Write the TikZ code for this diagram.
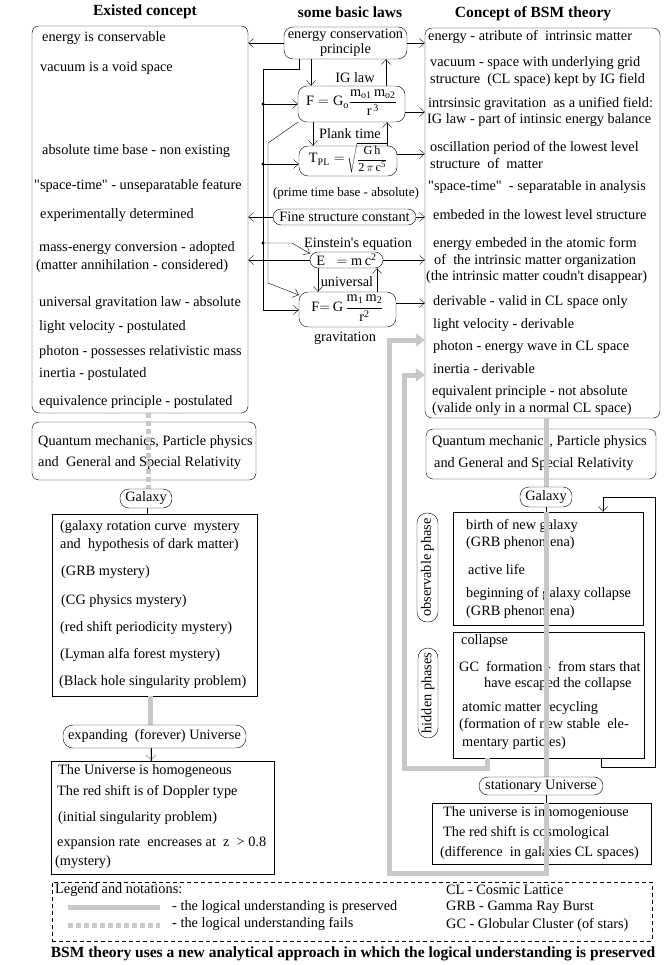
\documentclass[tikz,border=0pt]{standalone}
\usepackage{fontspec}
\setmainfont{Liberation Serif}[Ligatures=TeXOff]
\usetikzlibrary{arrows.meta}
\definecolor{lg}{RGB}{200,200,200}
\newcommand\fsz{\fontsize{14.3}{16.5}\selectfont}
\newcommand\fbz{\fontsize{15.5}{18}\selectfont\bfseries}
\newcommand\myq{\symbol{34}}
\newcommand\myap{\symbol{39}}
\begin{document}
\begin{tikzpicture}[x=1pt,y=-1pt,
  every node/.style={font=\fsz},
  txt/.style={anchor=west,inner sep=0pt},
  bigbox/.style={draw,rounded corners=7pt,inner sep=0pt},
  sqbox/.style={draw,inner sep=0pt},
  pill/.style={draw,fill=white,rounded corners=9pt,inner sep=0pt},
  lawbox/.style={draw,fill=white,rounded corners=9pt,inner sep=0pt},
  lbl/.style={inner sep=0pt},
  ttl/.style={inner sep=0pt,font=\fbz},
  arr/.style={-{Straight Barb[length=5pt,width=9pt]}},
  glin/.style={draw=lg,line width=5pt},
  gdot/.style={draw=lg,line width=5pt,dash pattern=on 5pt off 3pt},
  garr/.style={draw=lg,line width=5pt,-{Triangle[length=9pt,width=13pt]}},
  jdot/.style={circle,fill,inner sep=0pt,minimum size=3.2pt},
]
\useasboundingbox (0,0) rectangle (665,965);

% titles
\node[ttl] (t1) at (145,12) {Existed concept};
\node[ttl] (t2) at (350,12) {some basic laws};
\node[ttl] (t3) at (533,14) {Concept of BSM theory};

% big boxes
\node[bigbox,minimum width=216pt,minimum height=387pt] (lbox) at (140,219.5) {};
\node[bigbox,minimum width=235pt,minimum height=390pt] (rbox) at (542.5,223) {};

% left texts
\node[txt] (l1) at (42,38) {energy is conservable};
\node[txt] (l2) at (40,68) {vacuum is a void space};
\node[txt] (l3) at (42,151) {absolute time base - non existing};
\node[txt] (l4) at (34,186) {\myq space-time\myq\ - unseparatable feature};
\node[txt] (l5) at (40,215) {experimentally determined};
\node[txt] (l6) at (39,248) {mass-energy conversion - adopted};
\node[txt] (l7) at (36,266) {(matter annihilation - considered)};
\node[txt] (l8) at (39,303) {universal gravitation law - absolute};
\node[txt] (l9) at (39,327) {light velocity - postulated};
\node[txt] (l10) at (39,352) {photon - possesses relativistic mass};
\node[txt] (l11) at (39,374) {inertia - postulated};
\node[txt] (l12) at (39,402) {equivalence principle - postulated};

% right texts
\node[txt] (r1) at (428,37) {energy - atribute of \ intrinsic matter};
\node[txt] (r2) at (430,63) {vacuum - space with underlying grid};
\node[txt] (r3) at (430,80) {structure \ (CL space) kept by IG field};
\node[txt] (r4) at (428,104) {intrsinsic gravitation \ as a unified field:};
\node[txt] (r5) at (427,120) {IG law - part of intinsic energy balance};
\node[txt] (r6) at (430,148) {oscillation period of the lowest level};
\node[txt] (r7) at (430,164) {structure \ of \ matter};
\node[txt] (r8) at (428,187) {\myq space-time\myq\ \ - separatable in analysis};
\node[txt] (r9) at (433,215) {embeded in the lowest level structure};
\node[txt] (r10) at (433,244) {energy embeded in the atomic form};
\node[txt] (r11) at (434,261) {of \ the intrinsic matter organization};
\node[txt] (r12) at (426,277) {(the intrinsic matter coudn\myap t disappear)};
\node[txt] (r13) at (433,302) {derivable - valid in CL space only};
\node[txt] (r14) at (433,325) {light velocity - derivable};
\node[txt] (r15) at (433,347) {photon - energy wave in CL space};
\node[txt] (r16) at (433,369) {inertia - derivable};
\node[txt] (r17) at (432,392) {equivalent principle - not absolute};
\node[txt] (r18) at (432,409) {(valide only in a normal CL space)};

% middle law boxes
\node[lawbox,minimum width=123pt,minimum height=32pt,align=center] (ecp) at (345.5,43) {energy conservation\\[-1pt]principle};
\node[lawbox,minimum width=107pt,minimum height=36pt] (igl) at (351.5,104)
  {\raisebox{0pt}[16pt][12pt]{$\mathrm{F = G_o}\displaystyle\frac{\mathrm{m_{o1}\,m_{o2}}}{\mathrm{r^{\,3}}}$}};
\node[lawbox,minimum width=98pt,minimum height=30pt] (tpl) at (348,161)
  {\raisebox{0pt}[14pt][10pt]{$\mathrm{T_{PL}} =$\,{\fontsize{12.2}{14}\selectfont$\sqrt{\displaystyle\frac{\mathrm{G\,h}}{\mathrm{2\,}\pi\,\mathrm{c^5}}}$}}};
\node[pill,minimum width=143pt,minimum height=16pt,rounded corners=8pt] (fsc) at (344.5,217) {Fine structure constant};
\node[pill,minimum width=73pt,minimum height=16pt,rounded corners=8pt] (emc) at (346.5,260) {$\mathrm{E\ \ = m\,c^2}$};
\node[lawbox,minimum width=97pt,minimum height=35pt] (grav) at (347.5,309.5)
  {\raisebox{0pt}[16pt][12pt]{$\mathrm{F{=}\,G}\,\displaystyle\frac{\mathrm{m_1\,m_2}}{\mathrm{r^2}}$}};

\node[lbl] (lb1) at (355,78) {IG law};
\node[lbl] (lb2) at (350,134) {Plank time};
\node[lbl,font=\fontsize{13}{15}\selectfont] (lb3) at (346,193) {(prime time base - absolute)};
\node[lbl] (lb4) at (358,244) {Einstein\myap s equation};
\node[lbl] (lb5) at (347,282) {universal};
\node[lbl] (lb6) at (345,338) {gravitation};

% middle connectors
\draw[arr] (ecp.west) -- (ecp.west -| lbox.east);
\draw[arr] (ecp.east) -- (ecp.east -| rbox.west);
\draw[arr] (ecp.south -| 311,0) -- (igl.north -| 311,0);
\draw[arr] (igl.north -| 386,0) -- (ecp.south -| 386,0);
\draw[arr] (igl.south -| 313,0) -- (tpl.north -| 313,0);
\draw[arr] (tpl.north -| 387,0) -- (igl.south -| 387,0);
\draw[arr] (emc.south -| 318,0) -- (grav.north -| 318,0);
\draw[arr] (grav.north -| 377,0) -- (emc.south -| 377,0);
\draw[arr] (igl.east |- 0,112) -- (rbox.west |- 0,112);
\draw[arr] (tpl.east |- 0,154) -- (rbox.west |- 0,154);
\draw[arr] (fsc.east) -- (fsc.east -| rbox.west);
\draw[arr] (fsc.west) -- (fsc.west -| lbox.east);
\draw[arr] (emc.west) -- (emc.west -| lbox.east);
\draw[arr] (emc.east) -- (emc.east -| rbox.west);
\draw[arr] (grav.east |- 0,303) -- (rbox.west |- 0,303);

\draw[arr] (ecp.south -| 299,0) |- (263,69) -- (263,310) -- (grav.west |- 0,310);
\draw[arr] (263,104) -- (igl.west |- 0,104);
\draw[arr] (263,164) -- (tpl.west |- 0,164);
\draw[arr] (263,243) -- (292,243) -- (emc.170);
\node[jdot] (j1) at (263,104) {};
\node[jdot] (j2) at (263,164) {};
\node[jdot] (j3) at (263,243) {};
\draw[arr] (igl.south west) -- (268,143) -- (268,283) -- (grav.west |- 0,295);

% left column
\node[bigbox,minimum width=224pt,minimum height=58pt] (lqm) at (144,451) {};
\node[txt] (lq1) at (38,442) {Quantum mechanics, Particle physics};
\node[txt] (lq2) at (38,463) {and \ General and Special Relativity};
\node[sqbox,minimum width=205pt,minimum height=182pt] (lmys) at (154.5,605) {};
\node[txt] (m1) at (60,527) {(galaxy rotation curve \ mystery};
\node[txt] (m2) at (60,545) {and \ hypothesis of dark matter)};
\node[txt] (m3) at (61,572) {(GRB mystery)};
\node[txt] (m4) at (61,601) {(CG physics mystery)};
\node[txt] (m5) at (60,628) {(red shift periodicity mystery)};
\node[txt] (m6) at (60,655) {(Lyman alfa forest mystery)};
\node[txt] (m7) at (59,682) {(Black hole singularity problem)};
\node[sqbox,minimum width=223pt,minimum height=113pt] (luni) at (162.5,817.5) {};
\node[txt] (u1) at (58,771) {The Universe is homogeneous};
\node[txt] (u2) at (57,792) {The red shift is of Doppler type};
\node[txt] (u3) at (58,818) {(initial singularity problem)};
\node[txt] (u4) at (57,843) {expansion rate \ encreases at \ z \ > 0.8};
\node[txt] (u5) at (55,862) {(mystery)};

% right column
\node[bigbox,minimum width=230pt,minimum height=50pt] (rqm) at (541,454) {};
\node[txt] (rq1) at (432,442) {Quantum mechanics, Particle physics};
\node[txt] (rq2) at (434,464) {and General and Special Relativity};
\node[sqbox,minimum width=190pt,minimum height=113pt] (obs) at (548,568.5) {};
\node[txt] (o1) at (466,526) {birth of new galaxy};
\node[txt] (o2) at (466,543) {(GRB phenomena)};
\node[txt] (o3) at (468,570) {active life};
\node[txt] (o4) at (466,594) {beginning of galaxy collapse};
\node[txt] (o5) at (466,612) {(GRB phenomena)};
\node[sqbox,minimum width=191pt,minimum height=126pt] (hid) at (548.5,695) {};
\node[txt] (h1) at (461,641) {collapse};
\node[txt] (h2) at (459,667) {GC \ formation - \ from stars that};
\node[txt] (h3) at (484,684) {have escaped the collapse};
\node[txt] (h4) at (462,708) {atomic matter recycling};
\node[txt] (h5) at (459,725) {(formation of new stable \ ele-};
\node[txt] (h6) at (462,743) {mentary particles)};
\node[sqbox,minimum width=219pt,minimum height=61pt] (sbox) at (541.5,833.5) {};
\node[txt] (s1) at (443,813) {The universe is inhomogeniouse};
\node[txt] (s2) at (443,833) {The red shift is cosmological};
\node[txt] (s3) at (440,853) {(difference \ in galaxies CL spaces)};

% grey logic lines
\draw[gdot] (lbox.south -| 148,0) -- (148,489);
\draw[glin] (lmys.south -| 150,0) -- (150,725);
\draw[lg,line width=1.6pt,-{Straight Barb[length=5pt,width=10pt]}] (151,748) -- (luni.north -| 151,0);
\draw (151,748) -- (luni.north -| 151,0);
\draw (147,508) -- (lmys.north -| 147,0);

\draw[glin] (rbox.south -| 546,0) -- (546,487);
\draw (546,507) -- (obs.north -| 546,0);
\draw[glin] (obs.north -| 546,0) -- (546,777);
\draw (546,795) -- (sbox.north -| 546,0);
\draw[garr] (sbox.north -| 546,0) -- (546,873) -- (389,873) -- (389,340) -- (rbox.west |- 0,340);
\draw[garr] (hid.south -| 487,0) -- (487,768) -- (404,768) -- (404,375) -- (rbox.west |- 0,375);

\draw[arr] (hid.south -| 601,0) -- (601,767) -- (655,767) -- (655,497) -- (603,497) -- (obs.north -| 603,0);

% pills
\node[pill,minimum width=52pt,minimum height=19pt] (lgal) at (146,498.5) {Galaxy};
\node[pill,minimum width=183pt,minimum height=23pt,rounded corners=10pt] (exp) at (154.5,736.5) {expanding \ (forever) Universe};
\node[pill,minimum width=52pt,minimum height=20pt] (rgal) at (546,497) {Galaxy};
\node[pill,minimum width=124pt,minimum height=18pt] (stat) at (541,786) {stationary Universe};
\node[pill,rotate=90,minimum width=109pt,minimum height=21pt,rounded corners=10pt] (obsp) at (427.5,567.5) {observable phase};
\node[pill,rotate=90,minimum width=90pt,minimum height=20pt,rounded corners=10pt] (hidp) at (428,693) {hidden phases};

% legend
\node[draw,dash pattern=on 4pt off 3pt,minimum width=600pt,minimum height=59pt,inner sep=0pt] (leg) at (352,911.5) {};
\node[txt] (g1) at (55,890) {Legend and notations:};
\draw[glin] (68,907) -- (160,907);
\draw[gdot] (68,925) -- (160,925);
\node[txt] (g2) at (172,907) {- the logical understanding is preserved};
\node[txt] (g3) at (172,924) {- the logical understanding fails};
\node[txt] (g4) at (446,890) {CL - Cosmic Lattice};
\node[txt] (g5) at (446,907) {GRB - Gamma Ray Burst};
\node[txt] (g6) at (446,925) {GC - Globular Cluster (of stars)};

\node[ttl] (bt) at (353,954) {BSM theory uses a new analytical approach in which the logical understanding is preserved};
\end{tikzpicture}
\end{document}
